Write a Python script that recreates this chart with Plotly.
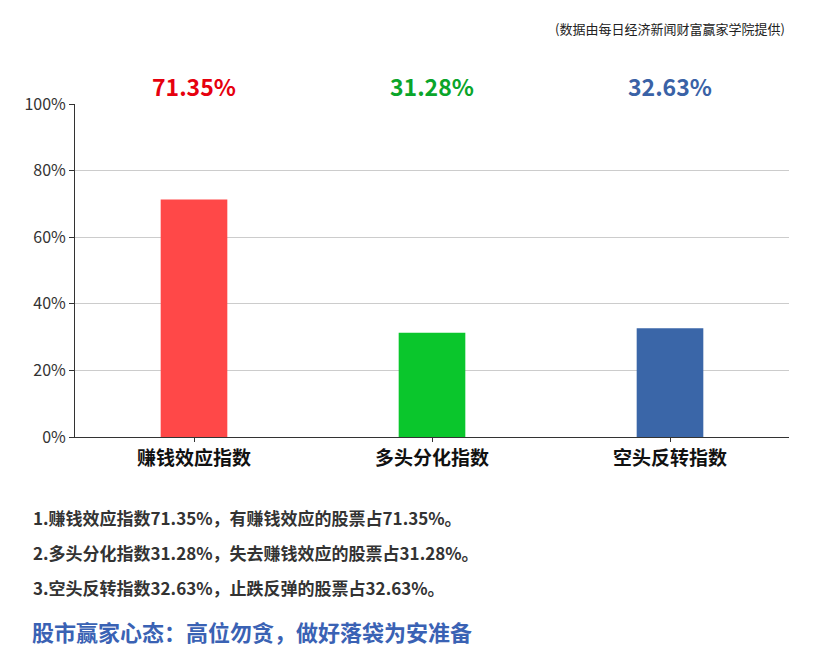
import plotly.graph_objects as go

categories = ["赚钱效应指数", "多头分化指数", "空头反转指数"]
values = [71.35, 31.28, 32.63]
value_labels = ["71.35%", "31.28%", "32.63%"]
bar_colors = ["#ff4848", "#0ac62c", "#3a66a8"]
label_colors = ["#e6000e", "#0aa52a", "#3a62a6"]
y_ticks = [0, 20, 40, 60, 80, 100]
y_tick_labels = ["0%", "20%", "40%", "60%", "80%", "100%"]
notes = [
    "1.赚钱效应指数71.35%，有赚钱效应的股票占71.35%。",
    "2.多头分化指数31.28%，失去赚钱效应的股票占31.28%。",
    "3.空头反转指数32.63%，止跌反弹的股票占32.63%。",
]
slogan = "股市赢家心态：高位勿贪，做好落袋为安准备"
source = "(数据由每日经济新闻财富赢家学院提供)"

W, H = 813, 646
OFF = 8  # page body margin offset
L, R, T, B = 75 - OFF, 813 - (789 - OFF), 104 - OFF, 646 - (437 - OFF)
PH = H - T - B
FONT = "Noto Sans CJK SC"

def py(p):
    return (H - B - (p - OFF)) / PH

def px(p):
    return ((p - OFF) - L) / (W - L - R)

fig = go.Figure(go.Bar(
    x=categories, y=values, marker=dict(color=bar_colors, line=dict(width=0)),
    hoverinfo="skip"))

ann = []
for c, lab, col in zip(categories, value_labels, label_colors):
    ann.append(dict(x=c, xref="x", y=py(86), yref="paper", text="<b>%s</b>" % lab, showarrow=False,
                    font=dict(family=FONT, size=23, color=col), xanchor="center", yanchor="middle"))
for i, n in enumerate(notes):
    ann.append(dict(x=px(31), xref="paper", y=py(517 + 35 * i), yref="paper", text="<b>%s</b>" % n,
                    showarrow=False, font=dict(family=FONT, size=17, color="#333333"),
                    xanchor="left", yanchor="middle"))
ann.append(dict(x=px(30), xref="paper", y=py(631), yref="paper", text="<b>%s</b>" % slogan,
                showarrow=False, font=dict(family=FONT, size=22, color="#3a62b4"),
                xanchor="left", yanchor="middle"))
ann.append(dict(x=px(787), xref="paper", y=py(28), yref="paper", text=source,
                showarrow=False, font=dict(family=FONT, size=13, color="#222222"),
                xanchor="right", yanchor="middle"))

fig.update_layout(
    width=W, height=H, margin=dict(l=L, r=R, t=T, b=B),
    paper_bgcolor="white", plot_bgcolor="white", showlegend=False,
    bargap=0.72, annotations=ann,
    font=dict(family=FONT),
    xaxis=dict(showline=True, linecolor="#333333", linewidth=1, ticks="outside", ticklen=4,
               tickcolor="#333333", tickfont=dict(family=FONT, size=19, color="#111111", weight="bold"),
               showgrid=False, fixedrange=True),
    yaxis=dict(range=[0, 100], tickvals=y_ticks, ticktext=y_tick_labels, showline=True,
               linecolor="#333333", linewidth=1, ticks="outside", ticklen=5, tickcolor="#333333",
               tickfont=dict(family=FONT, size=16, color="#333333"), gridcolor="#cccccc",
               zeroline=False, fixedrange=True),
)
fig.write_html("out.html")
